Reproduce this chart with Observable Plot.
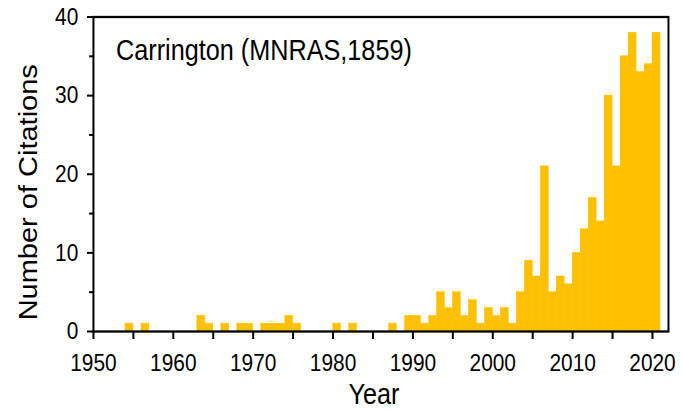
<!DOCTYPE html>
<html>
<head>
<meta charset="utf-8">
<script src="https://cdn.jsdelivr.net/npm/d3@7"></script>
<script src="https://cdn.jsdelivr.net/npm/@observablehq/plot@0.6"></script>
<style>
  html, body { margin: 0; padding: 0; background: #fff; }
  #chart svg { display: block; }
</style>
</head>
<body>
<div id="chart"></div>
<script>
// ---- data ----
const years  = [1954, 1956, 1963, 1964, 1966, 1968, 1969, 1971, 1972, 1973, 1974, 1975,
                1980, 1982, 1987, 1989, 1990, 1991, 1992, 1993, 1994, 1995, 1996, 1997,
                1998, 1999, 2000, 2001, 2002, 2003, 2004, 2005, 2006, 2007, 2008, 2009,
                2010, 2011, 2012, 2013, 2014, 2015, 2016, 2017, 2018, 2019, 2020];
const counts = [1, 1, 2, 1, 1, 1, 1, 1, 1, 1, 2, 1,
                1, 1, 1, 2, 2, 1, 2, 5, 3, 5, 2, 4,
                1, 3, 2, 3, 1, 5, 9, 7, 21, 5, 7, 6,
                10, 13, 17, 14, 30, 21, 35, 38, 33, 34, 38];
const yearTicks      = [1950, 1960, 1970, 1980, 1990, 2000, 2010, 2020];
const minorYearTicks = [1955, 1965, 1975, 1985, 1995, 2005, 2015];
const countTicks      = [0, 10, 20, 30, 40];
const minorCountTicks = [5, 15, 25, 35];
const titleText = "Carrington (MNRAS,1859)";
const xLabel = "Year";
const yLabel = "Number of Citations";

const data = years.map((y, i) => ({year: y, count: counts[i]}));
const FONT = '"Liberation Sans", Arial, Helvetica, sans-serif';
const BAR = "#FFC000";
const W = 785, H = 410;   // drawn wide, then squeezed horizontally to 683 like the reference

const svg = Plot.plot({
  width: W,
  height: H,
  marginLeft: 106.9,
  marginRight: 17.2,
  marginTop: 16.5,
  marginBottom: 79,
  style: {fontFamily: FONT, background: "#fff", color: "#000", overflow: "visible"},
  x: {domain: [1950, 2022], axis: null},
  y: {domain: [0, 40], axis: null},
  marks: [
    Plot.rectY(data, {x1: "year", x2: d => d.year + 1, y: "count", fill: BAR, stroke: BAR, strokeWidth: 0.5}),
    Plot.axisX({ticks: yearTicks, tickSize: 8, tickPadding: 14, fontSize: 24, strokeWidth: 2.3, label: null, tickFormat: d => String(d)}),
    Plot.axisX({ticks: minorYearTicks, tickSize: 8, strokeWidth: 2.3, label: null, tickFormat: () => ""}),
    Plot.axisY({ticks: countTicks, tickSize: 6.9, tickPadding: 10.5, fontSize: 24, strokeWidth: 2, label: null}),
    Plot.axisY({ticks: minorCountTicks, tickSize: 4.5, strokeWidth: 2, label: null, tickFormat: () => ""}),
    Plot.frame({stroke: "#000", strokeWidth: 2.3}),
    Plot.text([titleText], {text: d => d, frameAnchor: "top-left", textAnchor: "start", lineAnchor: "top", dx: 26, dy: 22, fontSize: 29, fill: "#000"}),
    Plot.text([xLabel], {text: d => d, frameAnchor: "bottom", textAnchor: "middle", lineAnchor: "bottom", dx: -8, dy: 72, fontSize: 29, fill: "#000"}),
    Plot.text([yLabel], {text: d => d, frameAnchor: "left", textAnchor: "middle", rotate: -90, lineAnchor: "bottom", dx: -65, dy: 18, fontSize: 29, fill: "#000"})
  ]
});

svg.setAttribute("width", 683);
svg.setAttribute("height", 410);
svg.setAttribute("preserveAspectRatio", "none");
svg.style.width = "683px";
svg.style.height = "410px";
svg.style.maxWidth = "none";
document.getElementById("chart").appendChild(svg);
</script>
</body>
</html>
